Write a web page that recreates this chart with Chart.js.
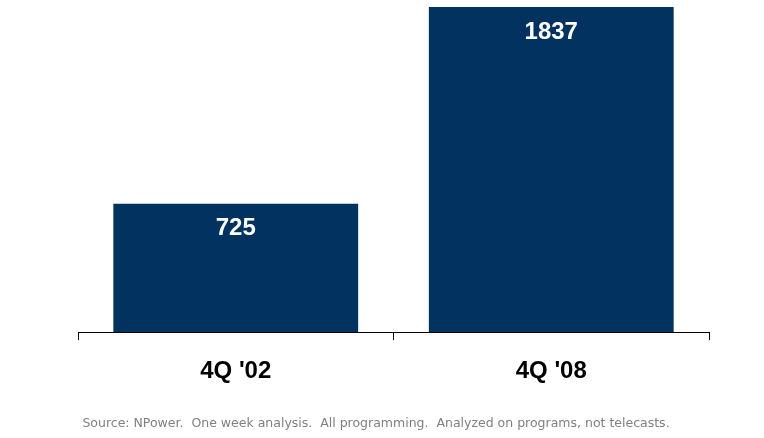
<!DOCTYPE html>
<html>
<head>
<meta charset="utf-8">
<script src="https://cdn.jsdelivr.net/npm/chart.js@4.4.0/dist/chart.umd.min.js"></script>
<style>
  html, body { margin: 0; padding: 0; background: #fff; }
  #wrap { width: 764px; height: 438px; }
</style>
</head>
<body>
<div id="wrap"><canvas id="chart" width="764" height="438"></canvas></div>
<script>
const categories = ["4Q '02", "4Q '08"];
const values = [725, 1837];
const sourceNote = "Source: NPower.  One week analysis.  All programming.  Analyzed on programs, not telecasts.";

// draws the white numbers inside the bars and the footnote
const labelPlugin = {
    id: 'labels',
    afterDatasetsDraw(chart) {
        const ctx = chart.ctx;
        const meta = chart.getDatasetMeta(0);
        ctx.save();
        ctx.fillStyle = '#ffffff';
        ctx.font = 'bold 24px "Liberation Sans", Arial, sans-serif';
        ctx.textAlign = 'center';
        ctx.textBaseline = 'middle';
        meta.data.forEach((bar, i) => {
            ctx.fillText(String(values[i]), bar.x, bar.y + 25);
        });
        ctx.fillStyle = '#808080';
        ctx.font = '12.5px "DejaVu Sans", sans-serif';
        ctx.fillText(sourceNote, 376, 424);
        ctx.restore();
    }
};

new Chart(document.getElementById('chart'), {
    type: 'bar',
    data: {
        labels: categories,
        datasets: [{
            data: values,
            backgroundColor: '#02325f',
            barPercentage: 0.776,
            categoryPercentage: 1.0
        }]
    },
    options: {
        responsive: false,
        animation: false,
        layout: { padding: { left: 78, right: 55, top: 7, bottom: 35 } },
        plugins: {
            legend: { display: false },
            tooltip: { enabled: false }
        },
        scales: {
            x: {
                grid: {
                    display: true,
                    drawOnChartArea: false,
                    drawTicks: true,
                    tickLength: 8,
                    color: '#000',
                    lineWidth: 1
                },
                border: { display: true, color: '#000', width: 1 },
                ticks: {
                    color: '#000',
                    padding: 17,
                    font: { family: '"Liberation Sans", Arial, sans-serif', size: 24, weight: 'bold' }
                }
            },
            y: {
                display: false,
                min: 0,
                max: 1837
            }
        }
    },
    plugins: [labelPlugin]
});
</script>
</body>
</html>
